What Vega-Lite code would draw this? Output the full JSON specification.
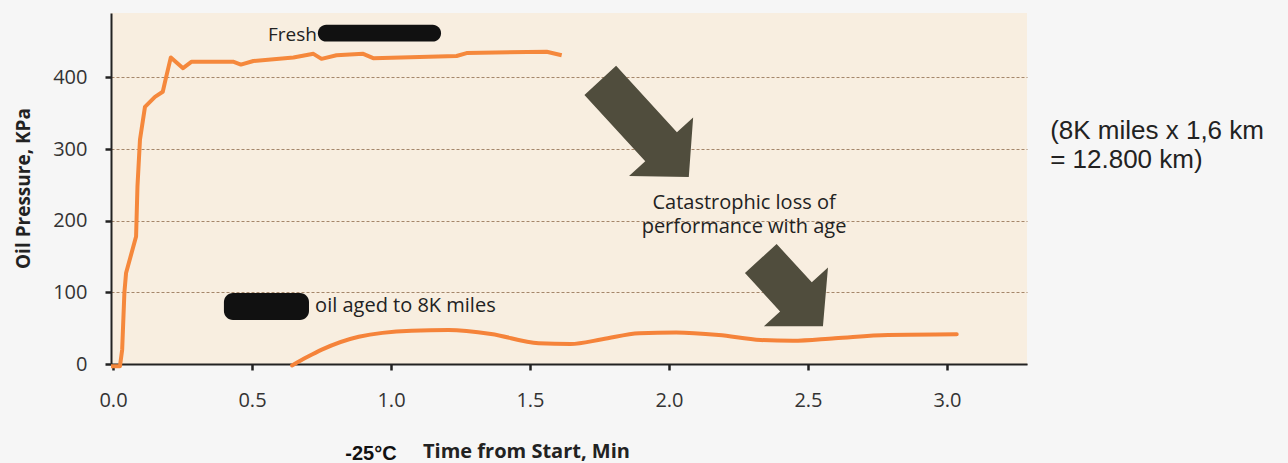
{
  "$schema": "https://vega.github.io/schema/vega-lite/v6.json",
  "width": 916,
  "height": 351,
  "autosize": {"type": "none"},
  "padding": {"left": 111, "top": 13, "right": 261, "bottom": 99},
  "background": "#f6f6f6",
  "config": {
    "view": {"fill": "#f8eee0", "stroke": null},
    "font": "Open Sans"
  },
  "datasets": {
    "fresh": [
      {"t": -0.007, "p": -3}, {"t": 0.025, "p": -3}, {"t": 0.033, "p": 20}, {"t": 0.041, "p": 100},
      {"t": 0.047, "p": 127}, {"t": 0.083, "p": 178}, {"t": 0.088, "p": 248}, {"t": 0.097, "p": 313},
      {"t": 0.115, "p": 359}, {"t": 0.151, "p": 373}, {"t": 0.179, "p": 380}, {"t": 0.189, "p": 397},
      {"t": 0.208, "p": 428}, {"t": 0.252, "p": 413}, {"t": 0.283, "p": 422}, {"t": 0.432, "p": 422},
      {"t": 0.46, "p": 418}, {"t": 0.505, "p": 423}, {"t": 0.649, "p": 428}, {"t": 0.721, "p": 433},
      {"t": 0.75, "p": 426}, {"t": 0.804, "p": 431}, {"t": 0.9, "p": 433}, {"t": 0.936, "p": 427},
      {"t": 1.236, "p": 430}, {"t": 1.272, "p": 434}, {"t": 1.56, "p": 436}, {"t": 1.614, "p": 431}
    ],
    "aged": [
      {"t": 0.644, "p": -2}, {"t": 0.7, "p": 10}, {"t": 0.751, "p": 20}, {"t": 0.884, "p": 38},
      {"t": 1.074, "p": 46.5}, {"t": 1.207, "p": 47.5}, {"t": 1.36, "p": 42}, {"t": 1.531, "p": 29},
      {"t": 1.646, "p": 28}, {"t": 1.76, "p": 34.5}, {"t": 1.893, "p": 43}, {"t": 2.026, "p": 44},
      {"t": 2.179, "p": 40.5}, {"t": 2.33, "p": 33.5}, {"t": 2.445, "p": 32.5}, {"t": 2.597, "p": 36},
      {"t": 2.788, "p": 40.5}, {"t": 3.035, "p": 41.5}
    ]
  },
  "layer": [
    {
      "data": {"name": "fresh"},
      "mark": {"type": "line", "color": "#f5883c", "strokeWidth": 4, "strokeJoin": "round"},
      "encoding": {
        "x": {
          "field": "t", "type": "quantitative",
          "scale": {"domain": [-0.0072, 3.2878], "nice": false, "zero": false},
          "axis": {
            "values": [0, 0.5, 1, 1.5, 2, 2.5, 3], "format": ".1f",
            "title": "Time from Start, Min", "titleFont": "Open Sans", "titleFontSize": 20, "titleFontWeight": "bold",
            "titleColor": "#222", "titleX": 415, "titleY": 87, "titleAlign": "center", "titleBaseline": "middle",
            "labelFont": "Open Sans", "labelFontSize": 20, "labelColor": "#333", "labelPadding": 20,
            "domainColor": "#222", "domainWidth": 2, "tickColor": "#222", "tickWidth": 2.5, "tickSize": 6,
            "grid": false, "labelFlush": false
          }
        },
        "y": {
          "field": "p", "type": "quantitative",
          "scale": {"domain": [0, 490], "nice": false, "zero": false},
          "axis": {
            "values": [0, 100, 200, 300, 400],
            "title": "Oil Pressure, KPa", "titleFont": "Open Sans", "titleFontSize": 19, "titleFontWeight": "bold",
            "titleColor": "#222", "titleX": -88, "titleY": 175, "titleAlign": "center", "titleBaseline": "middle", "titleAngle": -90,
            "labelFont": "Open Sans", "labelFontSize": 20, "labelColor": "#333", "labelPadding": 18,
            "domainColor": "#222", "domainWidth": 2, "tickColor": "#222", "tickWidth": 2.5, "tickSize": 6,
            "grid": true, "gridColor": "#a5866a", "gridWidth": 1, "gridDash": [3, 2], "labelFlush": false
          }
        }
      }
    },
    {
      "data": {"name": "aged"},
      "mark": {"type": "line", "color": "#f5833a", "strokeWidth": 4, "interpolate": "monotone", "strokeCap": "round"},
      "encoding": {
        "x": {"field": "t", "type": "quantitative"},
        "y": {"field": "p", "type": "quantitative"}
      }
    },
    {
      "data": {"values": [
        {"what": "fresh redaction", "t": 0.737, "t2": 1.18, "p": 473.5, "p2": 450.1},
        {"what": "aged redaction", "t": 0.399, "t2": 0.705, "p": 99.2, "p2": 61.5}
      ]},
      "mark": {"type": "rect", "color": "#111111", "cornerRadius": 9},
      "encoding": {
        "x": {"field": "t", "type": "quantitative"},
        "x2": {"field": "t2"},
        "y": {"field": "p", "type": "quantitative"},
        "y2": {"field": "p2"}
      }
    },
    {
      "data": {"values": [{"arrow": "upper", "t": 1.912, "p": 328.5}]},
      "mark": {
        "type": "point", "filled": true, "opacity": 1, "color": "#504d3d", "strokeWidth": 0,
        "size": 19600, "angle": 47.5,
        "shape": "M-0.936,-0.307L0.35,-0.307L0.35,-0.621L0.936,0L0.35,0.621L0.35,0.307L-0.936,0.307Z"
      },
      "encoding": {
        "x": {"field": "t", "type": "quantitative"},
        "y": {"field": "p", "type": "quantitative"}
      }
    },
    {
      "data": {"values": [{"arrow": "lower", "t": 2.442, "p": 99.9}]},
      "mark": {
        "type": "point", "filled": true, "opacity": 1, "color": "#504d3d", "strokeWidth": 0,
        "size": 19600, "angle": 47.5,
        "shape": "M-0.657,-0.307L0.086,-0.307L0.086,-0.621L0.657,0L0.086,0.621L0.086,0.307L-0.657,0.307Z"
      },
      "encoding": {
        "x": {"field": "t", "type": "quantitative"},
        "y": {"field": "p", "type": "quantitative"}
      }
    },
    {
      "data": {"values": [
        {"label": "Fresh", "t": 0.5576, "p": 459.5}
      ]},
      "mark": {"type": "text", "font": "Open Sans", "fontSize": 19, "color": "#222", "align": "left", "baseline": "middle"},
      "encoding": {
        "x": {"field": "t", "type": "quantitative"},
        "y": {"field": "p", "type": "quantitative"},
        "text": {"field": "label"}
      }
    },
    {
      "data": {"values": [
        {"label": "oil aged to 8K miles", "t": 0.727, "p": 81}
      ]},
      "mark": {"type": "text", "font": "Open Sans", "fontSize": 20, "color": "#222", "align": "left", "baseline": "middle"},
      "encoding": {
        "x": {"field": "t", "type": "quantitative"},
        "y": {"field": "p", "type": "quantitative"},
        "text": {"field": "label"}
      }
    },
    {
      "data": {"values": [
        {"label": "Catastrophic loss of", "t": 2.27, "p": 224.5},
        {"label": "performance with age", "t": 2.27, "p": 190.6}
      ]},
      "mark": {"type": "text", "font": "Open Sans", "fontSize": 20, "color": "#222", "align": "center", "baseline": "middle"},
      "encoding": {
        "x": {"field": "t", "type": "quantitative"},
        "y": {"field": "p", "type": "quantitative"},
        "text": {"field": "label"}
      }
    },
    {
      "data": {"values": [
        {"label": "(8K miles x 1,6 km", "t": 3.371, "p": 324.7},
        {"label": "= 12.800 km)", "t": 3.371, "p": 284.9}
      ]},
      "mark": {"type": "text", "font": "Liberation Sans", "fontSize": 26, "color": "#222", "align": "left", "baseline": "middle"},
      "encoding": {
        "x": {"field": "t", "type": "quantitative"},
        "y": {"field": "p", "type": "quantitative"},
        "text": {"field": "label"}
      }
    },
    {
      "data": {"values": [{"label": "-25°C", "t": 0.928, "p": -125.7}]},
      "mark": {"type": "text", "font": "Liberation Sans", "fontSize": 20, "fontWeight": "bold", "color": "#111", "align": "center", "baseline": "middle"},
      "encoding": {
        "x": {"field": "t", "type": "quantitative"},
        "y": {"field": "p", "type": "quantitative"},
        "text": {"field": "label"}
      }
    }
  ]
}
